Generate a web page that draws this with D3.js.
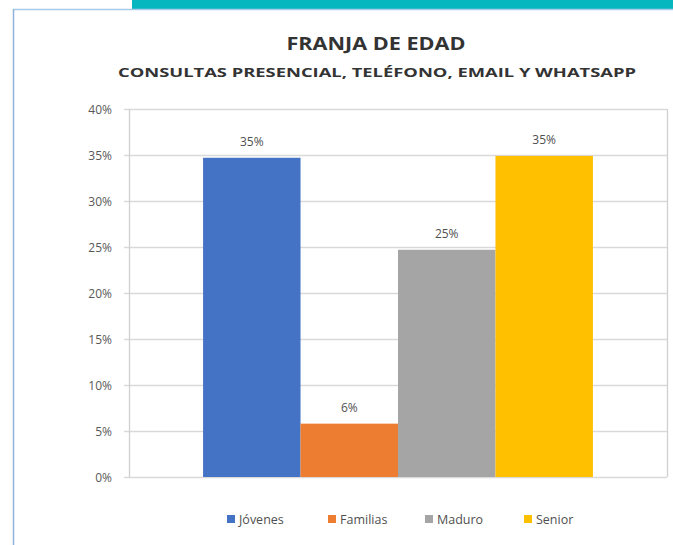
<!DOCTYPE html>
<html><head><meta charset="utf-8">
<script src="https://cdn.jsdelivr.net/npm/d3@7"></script>
<style>body{margin:0;background:#fff}svg{display:block}</style>
</head><body><svg id="c" width="673" height="545"></svg>
<script>
const series = ["Jóvenes","Familias","Maduro","Senior"];
const values = [0.347,0.058,0.247,0.349];
const labels = ["35%","6%","25%","35%"];
const colors = ["#4472C4","#ED7D31","#A5A5A5","#FFC000"];
const yTicks = [0,0.05,0.10,0.15,0.20,0.25,0.30,0.35,0.40];
const title = "FRANJA DE EDAD";
const subtitle = "CONSULTAS PRESENCIAL, TELÉFONO, EMAIL Y WHATSAPP";

const svg = d3.select("#c");
const font = "'Open Sans', 'Liberation Sans', sans-serif";
// decoration
svg.append("rect").attr("x",132).attr("y",0).attr("width",541).attr("height",9).attr("fill","#07B7C0");
svg.append("line").attr("x1",13).attr("x2",673).attr("y1",9.5).attr("y2",9.5).attr("stroke","#A9CBEA").attr("stroke-width",1.5);
svg.append("line").attr("x1",13.5).attr("x2",13.5).attr("y1",9).attr("y2",545).attr("stroke","#8FB4DC").attr("stroke-width",1.5);

const L=129,R=667,T=109,B=477;
const y = d3.scaleLinear().domain([0,0.40]).range([B,T]);
const x0 = d3.scaleBand().domain(["g"]).range([L,R]).paddingInner(0).paddingOuter(0.19);
const x = d3.scaleBand().domain(series).range([x0("g"),x0("g")+x0.bandwidth()]).padding(0);

// gridlines
svg.append("g").selectAll("line").data(yTicks).join("line")
  .attr("x1",L-5).attr("x2",R).attr("y1",d=>Math.round(y(d))+0.5).attr("y2",d=>Math.round(y(d))+0.5)
  .attr("stroke","#D9D9D9").attr("stroke-width",1.3);
svg.append("line").attr("x1",L+0.5).attr("x2",L+0.5).attr("y1",T).attr("y2",B).attr("stroke","#D0D0D0").attr("stroke-width",1.3);
svg.append("line").attr("x1",R+0.5).attr("x2",R+0.5).attr("y1",T).attr("y2",B).attr("stroke","#D0D0D0").attr("stroke-width",1.3);

// y labels
svg.append("g").selectAll("text").data(yTicks).join("text")
  .attr("x",112).attr("y",d=>y(d)+4.5).attr("text-anchor","end")
  .attr("font-family",font).attr("font-size",12).attr("fill","#595959")
  .text(d=>d3.format(".0%")(d));

// bars
svg.append("g").selectAll("rect").data(series).join("rect")
  .attr("x",d=>x(d)).attr("width",x.bandwidth())
  .attr("y",(d,i)=>y(values[i])).attr("height",(d,i)=>B-y(values[i]))
  .attr("fill",(d,i)=>colors[i]);

// data labels
svg.append("g").selectAll("text").data(series).join("text")
  .attr("x",d=>x(d)+x.bandwidth()/2).attr("y",(d,i)=>y(values[i])-12)
  .attr("text-anchor","middle").attr("font-family",font).attr("font-size",12).attr("fill","#505050")
  .text((d,i)=>labels[i]);

// titles
svg.append("text").attr("x",376).attr("y",50).attr("text-anchor","middle")
  .attr("font-family",font).attr("font-weight","bold").attr("font-size",18).attr("fill","#333")
  .attr("textLength",179).attr("lengthAdjust","spacingAndGlyphs").text(title);
svg.append("text").attr("x",377).attr("y",77).attr("text-anchor","middle")
  .attr("font-family",font).attr("font-weight","bold").attr("font-size",13).attr("fill","#333")
  .attr("textLength",518).attr("lengthAdjust","spacingAndGlyphs").text(subtitle);

// legend
const legX = [227,328,425,524];
const lg = svg.append("g").selectAll("g").data(series).join("g")
  .attr("transform",(d,i)=>`translate(${legX[i]},519)`);
lg.append("rect").attr("x",0).attr("y",-4).attr("width",8).attr("height",8).attr("fill",(d,i)=>colors[i]);
lg.append("text").attr("x",12).attr("y",4.5).attr("font-family",font).attr("font-size",12.5).attr("fill","#505050").text(d=>d);
</script></body></html>
